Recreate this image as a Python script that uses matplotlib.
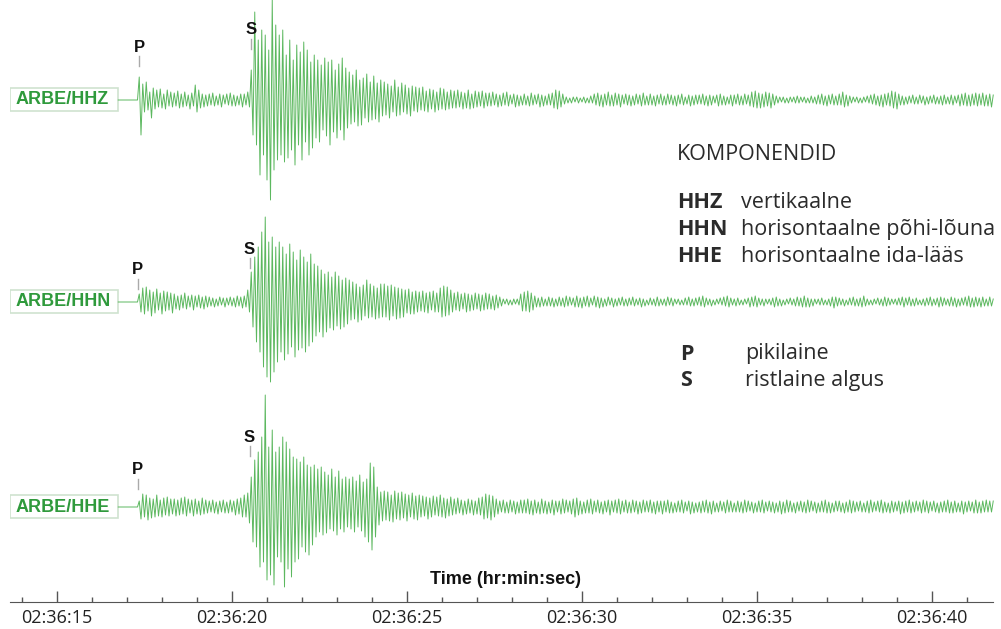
import numpy as np
import matplotlib
matplotlib.use("Agg")
import matplotlib.pyplot as plt
from matplotlib.patches import Rectangle

# seismogram samples (amplitude in display units), 20 samples/s starting 02:36:16.75
t0 = 16.75
dt = 0.05

hhz = [
    0, 0, 0, 0, 0, 0, 0, 0, 0, 0, 0, 0,
    23, -35, 16, -12, 18, -10, 8, -18, 12, -9, 10, -7, 11, -8, 6, -9, 10, -6, 8, -7,
    7, -6, 9, -8, 6, -7, 8, -6, 5, -9, 7, -6, 15, -12, 10, -8, 6, -7, 5, -6,
    6, -5, 7, -6, 4, -5, 6, -7, 5, -4, 6, -5, 7, -6, 5, -6, 4, -5, 6, -7,
    6, -5, 8, -7, 30, -35, 88, -45, 60, -75, 70, -55, 65, -80, 50, -100, 100, -70, 75, -60,
    65, -55, 70, -62, 45, -58, 60, -50, 40, -65, 55, -45, 48, -60, 58, -42, 50, -55, 38, -48,
    45, -38, 40, -42, 35, -30, 42, -36, 38, -45, 40, -32, 30, -38, 36, -30, 42, -40, 32, -28,
    28, -24, 25, -22, 30, -26, 20, -25, 22, -18, 26, -22, 18, -20, 24, -19, 17, -22, 20, -16,
    18, -15, 16, -18, 14, -12, 20, -16, 13, -15, 17, -12, 15, -14, 12, -16, 14, -11, 13, -12,
    12, -10, 13, -11, 9, -12, 11, -9, 10, -12, 8, -10, 12, -9, 11, -10, 8, -9, 10, -8,
    9, -8, 10, -7, 8, -9, 7, -8, 10, -9, 6, -8, 9, -7, 8, -6, 9, -8, 7, -6,
    7, -6, 8, -5, 6, -7, 5, -6, 7, -5, 8, -6, 5, -4, 6, -7, 5, -6, 4, -5,
    6, -5, 4, -6, 7, -5, 5, -4, 6, -7, 5, -6, 4, -5, 6, -5, 7, -8, 10, -9,
    9, -7, 6, -4, 3, -3, 2, -3, 3, -2, 3, -3, 2, -2, 3, -3, 2, -3, 4, -3,
    6, -5, 7, -6, 5, -7, 6, -5, 8, -6, 5, -6, 7, -5, 6, -7, 5, -4, 6, -5,
    5, -6, 4, -5, 6, -4, 5, -6, 7, -5, 4, -5, 6, -5, 4, -6, 5, -4, 6, -5,
    4, -5, 6, -4, 5, -5, 4, -6, 5, -4, 6, -5, 3, -4, 5, -6, 4, -5, 5, -4,
    5, -4, 6, -5, 4, -6, 5, -5, 4, -3, 5, -6, 6, -5, 4, -5, 3, -4, 5, -6,
    5, -4, 6, -5, 4, -5, 6, -4, 5, -6, 8, -7, 9, -8, 7, -8, 6, -7, 8, -6,
    7, -8, 6, -5, 4, -3, 3, -2, 3, -3, 2, -3, 3, -2, 3, -3, 4, -3, 3, -2,
    3, -3, 2, -3, 4, -3, 3, -4, 5, -4, 6, -5, 4, -6, 5, -4, 6, -5, 4, -5,
    6, -5, 8, -7, 5, -6, 4, -3, 3, -2, 3, -3, 2, -3, 3, -2, 4, -3, 5, -4,
    6, -5, 4, -6, 5, -7, 6, -5, 7, -6, 9, -8, 8, -9, 6, -5, 4, -5, 3, -4,
    4, -3, 5, -4, 3, -4, 5, -3, 4, -5, 3, -4, 4, -3, 5, -4, 3, -4, 4, -5,
    5, -4, 3, -4, 5, -5, 4, -3, 5, -6, 6, -5, 7, -6, 5, -6, 6, -5, 7, -6,
    6, -5, 7, -6, 5, -6, 6, -7, 5,
]

hhn = [
    0, 0, 0, 0, 0, 0, 0, 0, 0, 0, 0, 0,
    8, -10, 14, -12, 15, -9, 12, -14, 10, -11, 13, -8, 9, -12, 11, -9, 10, -8, 9, -11,
    8, -7, 6, -8, 7, -6, 9, -7, 6, -5, 7, -8, 6, -5, 7, -6, 5, -7, 6, -5,
    5, -4, 4, -5, 3, -4, 5, -3, 4, -5, 4, -3, 5, -4, 4, -5, 6, -4, 5, -6,
    6, -5, 12, -10, 30, -25, 45, -40, 55, -50, 70, -65, 85, -75, 60, -80, 65, -70, 55, -60,
    60, -50, 55, -58, 48, -52, 58, -45, 50, -55, 42, -48, 52, -46, 45, -50, 40, -44, 48, -40,
    38, -34, 36, -30, 32, -35, 28, -30, 30, -26, 25, -28, 30, -24, 26, -27, 22, -25, 24, -22,
    22, -18, 20, -17, 18, -20, 15, -18, 17, -14, 22, -16, 18, -15, 16, -17, 14, -16, 18, -15,
    18, -15, 16, -18, 17, -14, 15, -17, 14, -16, 13, -15, 12, -11, 13, -12, 10, -12, 11, -10,
    10, -9, 11, -10, 9, -11, 10, -8, 11, -10, 9, -10, 14, -15, 16, -14, 15, -13, 12, -10,
    9, -8, 10, -9, 8, -7, 9, -10, 8, -9, 7, -8, 9, -7, 8, -9, 7, -8, 9, -7,
    8, -7, 6, -8, 7, -6, 5, -4, 3, -2, 3, -3, 2, -3, 3, -2, 3, -3, 8, -9,
    10, -9, 11, -10, 9, -8, 6, -5, 4, -5, 5, -4, 3, -4, 5, -4, 4, -5, 3, -4,
    5, -4, 4, -5, 6, -4, 5, -3, 4, -5, 6, -5, 4, -6, 5, -4, 6, -5, 4, -3,
    6, -5, 5, -6, 4, -5, 3, -4, 5, -3, 4, -5, 3, -4, 4, -3, 5, -4, 3, -4,
    4, -3, 5, -4, 3, -3, 4, -5, 3, -4, 2, -3, 4, -3, 3, -4, 5, -4, 3, -3,
    3, -4, 5, -3, 4, -4, 3, -2, 3, -3, 2, -3, 4, -3, 5, -4, 3, -4, 4, -3,
    5, -4, 6, -5, 4, -3, 3, -4, 2, -3, 3, -2, 4, -3, 5, -4, 6, -5, 4, -3,
    3, -4, 4, -3, 2, -3, 3, -2, 4, -5, 5, -4, 6, -5, 4, -3, 3, -4, 3, -2,
    3, -3, 4, -5, 5, -4, 3, -4, 2, -3, 3, -2, 4, -3, 3, -4, 5, -4, 4, -5,
    6, -5, 4, -5, 3, -4, 3, -2, 3, -3, 4, -3, 2, -3, 3, -4, 5, -6, 5, -4,
    4, -3, 3, -4, 2, -3, 4, -3, 5, -4, 3, -4, 4, -5, 6, -4, 3, -3, 2, -3,
    3, -2, 4, -3, 3, -4, 5, -4, 4, -3, 3, -2, 3, -3, 4, -3, 5, -5, 4, -3,
    5, -4, 3, -4, 4, -3, 2, -3, 3, -4, 4, -3, 5, -4, 3, -3, 4, -5, 5, -4,
    4, -3, 3, -4, 5, -4, 4, -5, 3, -4, 4, -3, 5, -4, 6, -5, 4, -5, 5, -4,
    4, -5, 5, -4, 3, -4, 5, -4, 3,
]

hhe = [
    0, 0, 0, 0, 0, 0, 0, 0, 0, 0, 0, 0,
    6, -12, 13, -10, 12, -13, 9, -11, 8, -10, 12, -9, 7, -10, 9, -8, 10, -9, 8, -7,
    8, -9, 7, -8, 9, -7, 10, -9, 8, -6, 7, -9, 8, -7, 6, -8, 9, -7, 7, -6,
    6, -5, 7, -6, 5, -7, 6, -5, 7, -6, 5, -6, 7, -5, 6, -8, 8, -7, 9, -10,
    12, -10, 14, -16, 30, -35, 47, -40, 55, -60, 70, -55, 112, -73, 60, -68, 77, -78, 55, -50,
    60, -55, 70, -80, 65, -62, 58, -70, 50, -55, 48, -52, 45, -40, 50, -45, 42, -48, 40, -38,
    42, -30, 38, -25, 40, -28, 35, -26, 32, -22, 38, -24, 30, -28, 36, -22, 28, -25, 30, -20,
    28, -22, 30, -25, 26, -20, 32, -24, 25, -30, 28, -35, 44, -43, 40, -30, 20, -18, 15, -14,
    16, -13, 15, -14, 12, -15, 16, -12, 14, -13, 15, -11, 13, -14, 12, -10, 14, -12, 11, -13,
    12, -10, 11, -9, 10, -12, 9, -10, 11, -8, 10, -9, 12, -10, 9, -11, 8, -9, 10, -8,
    8, -7, 9, -6, 7, -8, 6, -7, 8, -6, 7, -8, 6, -7, 9, -8, 10, -12, 13, -11,
    12, -13, 11, -10, 8, -7, 6, -5, 7, -6, 5, -6, 7, -5, 6, -7, 5, -6, 7, -6,
    7, -6, 8, -7, 6, -8, 7, -6, 5, -7, 8, -6, 6, -7, 5, -6, 7, -8, 6, -5,
    6, -7, 8, -6, 7, -5, 6, -7, 8, -10, 9, -8, 6, -7, 5, -6, 7, -6, 8, -7,
    6, -5, 7, -6, 5, -7, 6, -5, 7, -8, 6, -5, 7, -6, 8, -7, 6, -5, 7, -6,
    5, -6, 7, -5, 6, -7, 5, -6, 7, -5, 6, -5, 7, -6, 5, -7, 6, -5, 6, -7,
    6, -5, 7, -6, 5, -6, 4, -5, 6, -5, 7, -6, 5, -4, 6, -7, 5, -6, 4, -5,
    5, -6, 6, -5, 7, -6, 5, -7, 6, -5, 4, -5, 6, -4, 5, -6, 7, -5, 6, -5,
    4, -5, 6, -5, 5, -6, 7, -5, 6, -4, 5, -6, 4, -5, 6, -5, 7, -6, 5, -4,
    6, -5, 5, -6, 4, -5, 6, -7, 5, -6, 7, -5, 6, -5, 4, -6, 5, -4, 6, -5,
    5, -6, 7, -5, 6, -4, 5, -6, 4, -5, 6, -5, 7, -6, 5, -6, 4, -5, 6, -4,
    6, -5, 4, -6, 5, -5, 7, -6, 6, -5, 5, -4, 6, -5, 4, -5, 6, -6, 7, -5,
    5, -4, 6, -5, 7, -6, 5, -5, 4, -6, 6, -5, 5, -4, 6, -7, 5, -6, 6, -5,
    7, -6, 5, -5, 6, -4, 5, -6, 7, -5, 6, -6, 5, -4, 6, -5, 4, -6, 5, -5,
    6, -5, 7, -6, 5, -6, 6, -5, 4, -5, 6, -7, 5, -5, 6, -4, 5, -6, 7, -6,
    5, -6, 6, -5, 7, -5, 6, -5, 6,
]

channels = ["ARBE/HHZ", "ARBE/HHN", "ARBE/HHE"]
p_times = [17.35, 17.3, 17.3]
s_times = [20.55, 20.5, 20.5]
tick_labels = ["02:36:15", "02:36:20", "02:36:25", "02:36:30", "02:36:35", "02:36:40"]
major_secs = [15, 20, 25, 30, 35, 40]

legend_codes = ["HHZ", "HHN", "HHE"]
legend_desc = ["vertikaalne", "horisontaalne põhi-lõuna", "horisontaalne ida-lääs"]
phase_codes = ["P", "S"]
phase_desc = ["pikilaine", "ristlaine algus"]

W, H = 1001, 629
trace_col = "#5cb85f"
label_col = "#2f9a3c"
text_col = "#2b2b2b"
body_font = "Open Sans"


def t_of(px):
    return 15 + (px - 57) / 35.0


fig = plt.figure(figsize=(W / 100, H / 100), dpi=100)
ax = fig.add_axes([10 / W, (H - 602) / H, 983 / W, 602 / H])
ax.set_xlim(t_of(10), t_of(993))
ax.set_ylim(602, 0)

baselines = [100, 302, 507]
p_text_y = [47, 270, 470]
s_text_y = [30, 249, 437]

for sig, name, base, pt, st, py, sy in zip([hhz, hhn, hhe], channels, baselines,
                                          p_times, s_times, p_text_y, s_text_y):
    sig = np.array(sig, dtype=float)
    t = t0 + dt * np.arange(len(sig))
    ax.plot(t, base - sig, color=trace_col, lw=0.7, clip_on=False)

    # station label box
    ax.add_patch(Rectangle((t_of(10), base - 12), t0 - t_of(10), 23,
                           facecolor="white", edgecolor="#cfe3cf", lw=1.2))
    ax.text(t_of(16), base, name, color=label_col, fontsize=13, fontweight="bold",
            family="Liberation Sans", va="center", ha="left")

    # phase picks
    for ph, tt, ty in [("P", pt, py), ("S", st, sy)]:
        ax.text(tt, ty, ph, fontsize=12, fontweight="bold", family="Liberation Sans",
                ha="center", va="center", color="#111111")
        ax.plot([tt, tt], [ty + 9, ty + 19], color="#aaaaaa", lw=1)

# time axis
for s in ["top", "left", "right"]:
    ax.spines[s].set_visible(False)
ax.spines["bottom"].set_color("#555555")
ax.set_yticks([])
ax.set_xticks(major_secs)
ax.set_xticklabels(tick_labels)
ax.set_xticks(np.arange(14, 42), minor=True)
ax.tick_params(axis="x", which="major", direction="in", length=8, width=1,
               color="#555555", pad=5, labelsize=13, labelcolor="#222222")
ax.tick_params(axis="x", which="minor", direction="in", length=3.5, width=1,
               color="#555555")
for lab in ax.get_xticklabels():
    lab.set_family(body_font)
ax.set_facecolor("none")

ax.text(t_of(505), 580, "Time (hr:min:sec)", fontsize=13, fontweight="bold",
        family="Liberation Sans", ha="center", va="center", color="#111111")

# legend text block
fs = 15.5
fig.text(677 / W, 1 - 155 / H, "KOMPONENDID", fontsize=fs, family=body_font,
         color=text_col, va="center")
for i, (c, d) in enumerate(zip(legend_codes, legend_desc)):
    y = 203 + i * 26.5
    fig.text(677 / W, 1 - y / H, c, fontsize=fs, family=body_font, fontweight="bold",
             color=text_col, va="center")
    fig.text(741 / W, 1 - y / H, d, fontsize=fs, family=body_font,
             color=text_col, va="center")
for i, (c, d) in enumerate(zip(phase_codes, phase_desc)):
    y = 354 + i * 26.5
    fig.text(680 / W, 1 - y / H, c, fontsize=fs, family=body_font, fontweight="bold",
             color=text_col, va="center")
    fig.text(745 / W, 1 - y / H, d, fontsize=fs, family=body_font,
             color=text_col, va="center")

fig.savefig("out.png", dpi=100, facecolor="white")
